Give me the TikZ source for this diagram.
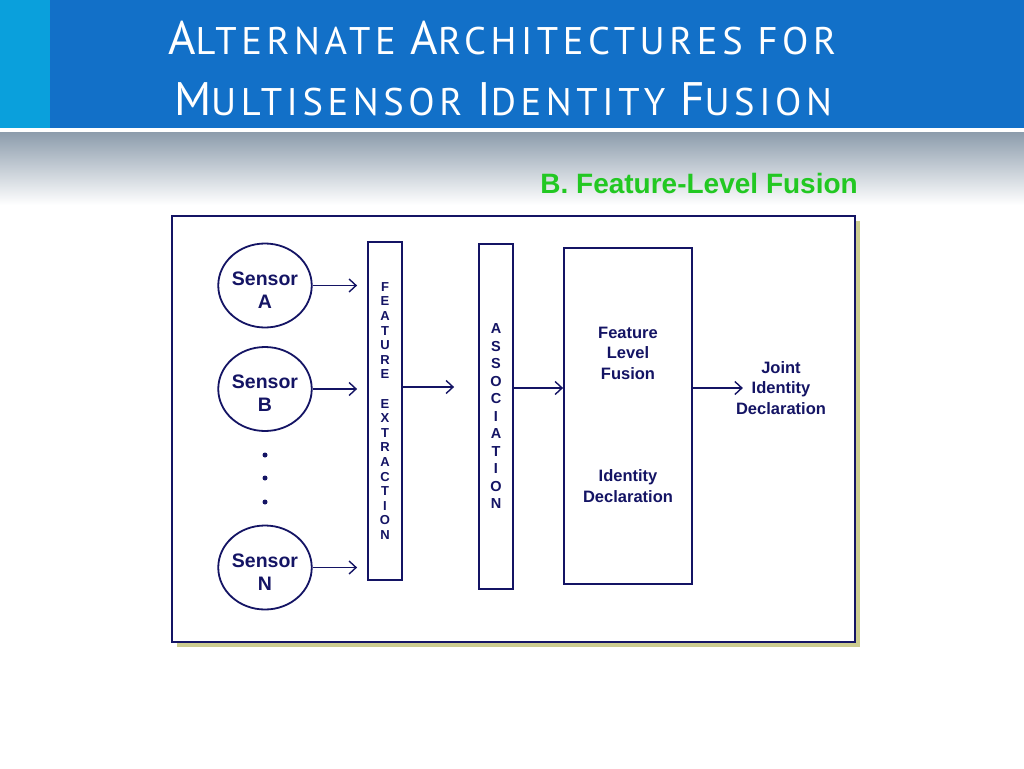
\documentclass[tikz,border=0pt]{standalone}
\usepackage{fontspec}
\setmainfont{Liberation Sans}
\newfontfamily\titlefont[LetterSpace=12]{PT Sans}
\usetikzlibrary{positioning, arrows.meta, shapes.geometric}
\definecolor{slideblue}{RGB}{18,112,200}
\definecolor{slidecyan}{RGB}{10,160,220}
\definecolor{slidegray}{RGB}{140,156,172}
\definecolor{inkblue}{RGB}{20,20,100}
\definecolor{fusiongreen}{RGB}{34,200,34}
\definecolor{shadowolive}{RGB}{204,204,144}
\newcommand{\initcap}[1]{{\fontsize{47}{47}\selectfont #1}}
\tikzset{
x=1pt, y=-1pt, % one unit is one pixel of the slide, y runs down
>={Straight Barb[length=7pt,width=13pt]}, % open arrow heads
flow/.style={->, draw=inkblue, line width=1.4pt}, % the connectors
sensor/.style={ellipse, draw=inkblue, line width=1.8pt, fill=white, minimum width=88, minimum height=84, inner sep=0pt, text=inkblue, align=center, text height=45pt, text depth=0pt, font=\bfseries\fontsize{19.5}{23}\selectfont},
stripbox/.style={draw=inkblue, line width=1.8pt, fill=white, minimum width=34, inner sep=0pt, text=inkblue, align=center},
fusionbox/.style={draw=inkblue, line width=1.8pt, fill=white, minimum width=128, minimum height=336, inner sep=0pt},
label/.style={text=inkblue, align=center, inner sep=0pt, font=\bfseries\fontsize{16.5}{20.5}\selectfont},
dot/.style={circle, fill=inkblue, minimum size=5, inner sep=0pt},
title/.style={anchor=base, text=white, font=\titlefont\fontsize{38.5}{38.5}\selectfont},
}

\begin{document}
\begin{tikzpicture}
        \useasboundingbox (0,0) rectangle (1024,768);
        % header
        \fill[slideblue] (0,0) rectangle (1024,128);
        \fill[slidecyan] (0,0) rectangle (50,128);
        \shade[top color=slidegray, bottom color=white] (0,132) rectangle (1024,205);
        \node[title] (title1) at (502,55) {\initcap{A}LTERNATE \initcap{A}RCHITECTURES FOR};
        \node[title] (title2) at (503,115) {\initcap{M}ULTISENSOR \initcap{I}DENTITY \initcap{F}USION};
        \node[anchor=base east, text=fusiongreen, inner sep=0pt, font=\bfseries\fontsize{28}{28}\selectfont] (subtitle) at (858,193) {B. Feature-Level Fusion};

        % frame
        \fill[shadowolive] (177,221) rectangle (860,647);
        \draw[inkblue, line width=2.2pt, fill=white] (172,216) rectangle (855,642);

        % sensors
        \node[sensor] (sA) at (265,285.5) {Sensor\\A};
        \node[sensor] (sB) at (265,389) {Sensor\\B};
        \node[sensor] (sN) at (265,567.5) {Sensor\\N};
        \foreach \y [count=\i] in {455,478,502}
            \node[dot] (d\i) at (265,\y) {};

        % feature extraction and association
        \node[stripbox, minimum height=338, font=\bfseries\fontsize{13}{14.6}\selectfont] (fe) at (385,411)
            {F\\E\\A\\T\\U\\R\\E\\[14.6pt]E\\X\\T\\R\\A\\C\\T\\I\\O\\N};
        \node[stripbox, minimum height=345, font=\bfseries\fontsize{14.5}{17.5}\selectfont] (assoc) at (496,416.5)
            {A\\S\\S\\O\\C\\I\\A\\T\\I\\O\\N};

        % fusion
        \node[fusionbox] (fusion) at (628,416) {};
        \node[label] (flf) at (628,353) {Feature\\Level\\Fusion};
        \node[label] (idd) at (628,486) {Identity\\Declaration};
        \node[label] (joint) at (781,388) {Joint\\Identity\\Declaration};

        \draw[flow, shorten >=10pt] (sA.east) -- (sA.east -| fe.west);
        \draw[flow, shorten >=10pt] (sB.east) -- (sB.east -| fe.west);
        \draw[flow, shorten >=10pt] (sN.east) -- (sN.east -| fe.west);
        \draw[flow, shorten >=24pt] (fe.east |- 0,387) -- (assoc.west |- 0,387);
        \draw[flow] (assoc.east |- 0,388) -- (fusion.west |- 0,388);
        \draw[flow, shorten >=-7pt] (fusion.east |- joint) -- (joint.west);
\end{tikzpicture}
\end{document}
